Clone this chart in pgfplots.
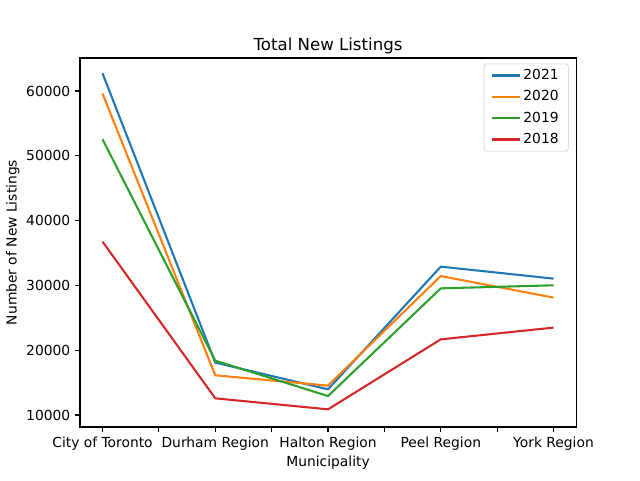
\documentclass[border=0pt]{standalone}
\usepackage{fontspec}
\setmainfont{DejaVu Sans}
\usepackage{pgfplots}
\pgfplotsset{compat=1.18}

\definecolor{tabblue}{HTML}{1F77B4}
\definecolor{taborange}{HTML}{FF7F0E}
\definecolor{tabgreen}{HTML}{2CA02C}
\definecolor{tabred}{HTML}{D62728}

\begin{document}
\begin{tikzpicture}
% page frame: 640x480 px at 0.7227pt per px
\path (-57.8pt,-38.3pt) rectangle (404.7pt,308.6pt);
\begin{axis}[
    scale only axis,
    width=358.5pt,
    height=266.7pt,
    at={(0,0)}, anchor=south west,
    xmin=-0.2, xmax=4.2,
    ymin=8150, ymax=65100,
    xtick={0,0.5,1,1.5,2,2.5,3,3.5,4},
    xticklabels={City of Toronto,,Durham Region,,Halton Region,,Peel Region,,York Region},
    ytick={10000,20000,30000,40000,50000,60000},
    scaled y ticks=false,
    /pgf/number format/set thousands separator={},
    /pgf/number format/assume math mode=true,
    tick align=outside,
    tick pos=left,
    major tick length=3.5pt,
    tick style={black, line width=0.8pt},
    axis line style={line width=0.8pt},
    ticklabel style={font=\fontsize{10}{12}\selectfont},
    title={Total New Listings},
    title style={font=\fontsize{12}{14}\selectfont, at={(0.5,1)}, anchor=south, yshift=-6.4pt},
    xlabel={Municipality},
    ylabel={Number of New Listings},
    label style={font=\fontsize{10}{12}\selectfont},
    xlabel style={yshift=3pt},
    ylabel style={yshift=-2pt},
    legend style={at={(0.985,0.985)}, anchor=north east, draw=black!20, rounded corners=2pt,
        font=\fontsize{10}{12}\selectfont, row sep=2.5pt, inner xsep=5pt, inner ysep=2pt},
    legend cell align=left,
    legend image code/.code={\draw[#1, line width=1.5pt] (0pt,0pt) -- (20pt,0pt);},
    every axis plot/.append style={line width=1.5pt},
]
\addplot[tabblue] coordinates {(0,62730) (1,18090) (2,13970) (3,32900) (4,31050)};
\addlegendentry{2021}
\addplot[taborange] coordinates {(0,59600) (1,16130) (2,14540) (3,31450) (4,28120)};
\addlegendentry{2020}
\addplot[tabgreen] coordinates {(0,52550) (1,18390) (2,12930) (3,29550) (4,30020)};
\addlegendentry{2019}
\addplot[tabred] coordinates {(0,36760) (1,12580) (2,10880) (3,21680) (4,23490)};
\addlegendentry{2018}
\end{axis}
\end{tikzpicture}
\end{document}
